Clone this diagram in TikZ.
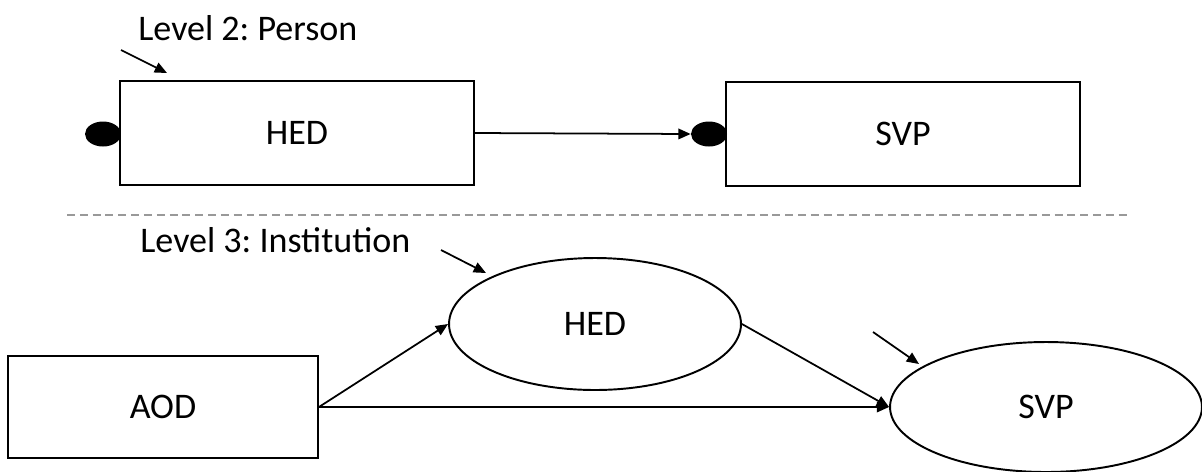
\documentclass[tikz,border=0pt]{standalone}
\usepackage{fontspec}
\setmainfont{Carlito}
\frenchspacing
\usetikzlibrary{arrows.meta,positioning,shapes.geometric}

\begin{document}
\begin{tikzpicture}[x=0.02cm, y=-0.02cm,
  box/.style={draw, line width=1.1pt, minimum width=7.08cm, minimum height=2.08cm,
              inner sep=0pt, font=\fontsize{20.5}{24}\selectfont},
  oval/.style={draw, ellipse, line width=1.1pt, inner sep=0pt,
               font=\fontsize{20.5}{24}\selectfont},
  dot/.style={fill=black, ellipse, minimum width=0.72cm, minimum height=0.5cm, inner sep=0pt},
  arr/.style={-{Triangle[length=7pt, width=6pt]}, line width=1pt},
  lvl/.style={anchor=west, inner sep=0pt, font=\fontsize{20.5}{24}\selectfont},
]
\useasboundingbox (0,0) rectangle (1202,471);

% --- Level 2: person ---
\node[lvl] (lvltwo) at (138,28) {Level 2: Person};
\node[box] (hedP) at (297,133) {HED};
\node[box] (svpP) at (903,134) {SVP};
\node[dot] (dotH) at (103,134) {};
\node[dot] (dotS) at (709,134) {};

\coordinate (eHa) at (121,50);
\coordinate (eHb) at (167,73);
\draw[arr] (eHa) -- (eHb);
\draw[arr] (hedP.east) -- (dotS.west);

% --- divider ---
\coordinate (divL) at (67,215);
\coordinate (divR) at (1131,215);
\draw[gray!80, line width=0.8pt, dash pattern=on 4.5pt off 2.8pt] (divL) -- (divR);

% --- Level 3: institution ---
\node[lvl] (lvlthree) at (140,240) {Level 3: Institution};
\node[box, minimum width=6.2cm, minimum height=2.04cm] (aod) at (163,407) {AOD};
\node[oval, minimum width=5.84cm, minimum height=2.64cm] (hedI) at (595,324) {HED};
\node[oval, minimum width=6.24cm, minimum height=2.6cm] (svpI) at (1046,407) {SVP};

\coordinate (eIa) at (441,250);
\coordinate (eIb) at (486,273);
\coordinate (eSa) at (873,332);
\coordinate (eSb) at (919,364);
\draw[arr] (eIa) -- (eIb);
\draw[arr] (eSa) -- (eSb);

\draw[arr] (aod.east) -- (hedI.west);
\draw[arr] (aod.east) -- (svpI.west);
\draw[arr] (hedI.east) -- (svpI.west);
\end{tikzpicture}
\end{document}
